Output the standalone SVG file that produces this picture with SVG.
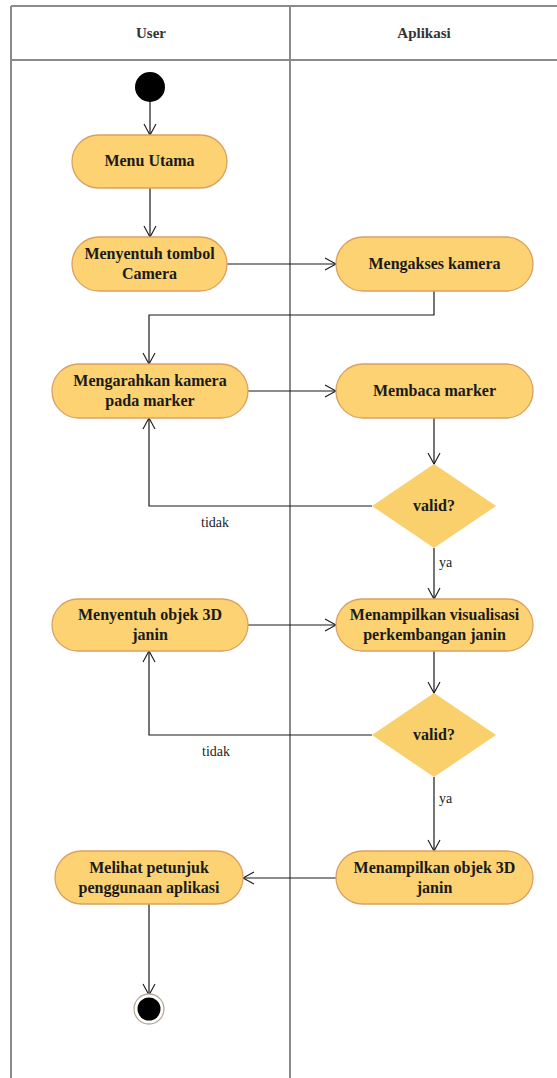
<svg xmlns="http://www.w3.org/2000/svg" width="557" height="1078" viewBox="0 0 557 1078">
  <defs>
    <marker id="open" markerWidth="14" markerHeight="14" refX="12" refY="7" orient="auto" markerUnits="userSpaceOnUse">
      <path d="M1,1 L12,7 L1,13" fill="none" stroke="#1a1a1a" stroke-width="1.1"/>
    </marker>
    <style>
      .lane { stroke: #8a8a8a; stroke-width: 2; fill: none; }
      .act { fill: #FCD272; stroke: #DBA063; stroke-width: 1.3; }
      .dec { fill: #F9D06B; stroke: none; }
      text { font-family: 'Liberation Serif', Tinos, 'Times New Roman', 'DejaVu Serif', serif; }
      .lbl { font-weight: bold; font-size: 16px; fill: #1a1a1a; text-anchor: middle; }
      .hdr { font-weight: bold; font-size: 15px; fill: #333; text-anchor: middle; }
      .guard { font-size: 14px; fill: #222; }
      .edge { stroke: #1a1a1a; stroke-width: 1.2; fill: none; marker-end: url(#open); }
    </style>
  </defs>
  <rect width="557" height="1078" fill="#ffffff"/>

  <!-- swimlanes -->
  <g id="lanes">
    <line class="lane" x1="11" y1="6" x2="557" y2="6"/>
    <line class="lane" x1="11" y1="60" x2="557" y2="60"/>
    <line class="lane" x1="11" y1="6" x2="11" y2="1078"/>
    <line class="lane" x1="290" y1="6" x2="290" y2="1078"/>
    <text class="hdr" x="151" y="38">User</text>
    <text class="hdr" x="424" y="38">Aplikasi</text>
  </g>

  <!-- connectors -->
  <g id="connectors">
    <path class="edge" d="M150,102 V135"/>
    <path class="edge" d="M150,188 V237"/>
    <path class="edge" d="M227,264 H336"/>
    <path class="edge" d="M434,291 V315 H149 V364"/>
    <path class="edge" d="M248,391 H336"/>
    <path class="edge" d="M434,418 V464"/>
    <path class="edge" d="M372,506 H149 V418"/>
    <path class="edge" d="M434,548 V599"/>
    <path class="edge" d="M248,625 H336"/>
    <path class="edge" d="M434,651 V693"/>
    <path class="edge" d="M372,735 H149 V651"/>
    <path class="edge" d="M434,777 V851"/>
    <path class="edge" d="M336,878 H243"/>
    <path class="edge" d="M149,904 V995"/>
    <text class="guard" x="201" y="527">tidak</text>
    <text class="guard" x="439" y="567" fill="#444">ya</text>
    <text class="guard" x="202" y="756">tidak</text>
    <text class="guard" x="439" y="803" fill="#444">ya</text>
  </g>

  <g id="start">
    <circle cx="150" cy="87" r="15" fill="#000"/>
  </g>

  <g id="menu-utama">
    <rect class="act" x="72" y="135" width="155" height="53" rx="26.5"/>
    <text class="lbl" x="149.5" y="166">Menu Utama</text>
  </g>

  <g id="menyentuh-tombol">
    <rect class="act" x="72" y="237" width="155" height="54" rx="27"/>
    <text class="lbl" x="149.5" y="259">Menyentuh tombol</text>
    <text class="lbl" x="149.5" y="279">Camera</text>
  </g>

  <g id="mengakses-kamera">
    <rect class="act" x="336" y="237" width="197" height="54" rx="27"/>
    <text class="lbl" x="434.5" y="269">Mengakses kamera</text>
  </g>

  <g id="mengarahkan-kamera">
    <rect class="act" x="52" y="364" width="196" height="54" rx="27"/>
    <text class="lbl" x="150" y="386">Mengarahkan kamera</text>
    <text class="lbl" x="150" y="406">pada marker</text>
  </g>

  <g id="membaca-marker">
    <rect class="act" x="336" y="364" width="197" height="54" rx="27"/>
    <text class="lbl" x="434.5" y="396">Membaca marker</text>
  </g>

  <g id="valid-1">
    <polygon class="dec" points="434,464 496,506 434,548 372,506"/>
    <text class="lbl" x="434" y="511">valid?</text>
  </g>

  <g id="menyentuh-objek">
    <rect class="act" x="52" y="599" width="196" height="52" rx="26"/>
    <text class="lbl" x="150" y="620">Menyentuh objek 3D</text>
    <text class="lbl" x="150" y="640">janin</text>
  </g>

  <g id="menampilkan-visualisasi">
    <rect class="act" x="336" y="599" width="197" height="52" rx="26"/>
    <text class="lbl" x="434.5" y="620">Menampilkan visualisasi</text>
    <text class="lbl" x="434.5" y="640">perkembangan janin</text>
  </g>

  <g id="valid-2">
    <polygon class="dec" points="434,693 496,735 434,777 372,735"/>
    <text class="lbl" x="434" y="740">valid?</text>
  </g>

  <g id="melihat-petunjuk">
    <rect class="act" x="55" y="851" width="188" height="53" rx="26.5"/>
    <text class="lbl" x="149" y="873">Melihat petunjuk</text>
    <text class="lbl" x="149" y="893">penggunaan aplikasi</text>
  </g>

  <g id="menampilkan-objek">
    <rect class="act" x="336" y="851" width="197" height="53" rx="26.5"/>
    <text class="lbl" x="434.5" y="873">Menampilkan objek 3D</text>
    <text class="lbl" x="434.5" y="893">janin</text>
  </g>

  <g id="end">
    <circle cx="149" cy="1009" r="15" fill="#fff" stroke="#b8a898" stroke-width="1.3"/>
    <circle cx="149" cy="1009" r="11.5" fill="#000"/>
  </g>
</svg>
